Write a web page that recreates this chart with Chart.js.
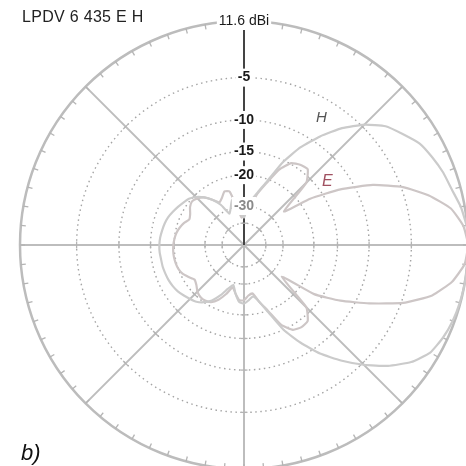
<!DOCTYPE html>
<html>
<head>
<meta charset="utf-8">
<script src="https://cdn.jsdelivr.net/npm/chart.js@4.4.1/dist/chart.umd.min.js"></script>
<style>
  html, body { margin: 0; padding: 0; background: #fff; overflow: hidden; width: 466px; height: 466px; }
  #wrap { position: relative; width: 466px; height: 466px; overflow: hidden; }
  canvas { position: absolute; left: 0; top: 0; }
  .txt { position: absolute; font-family: "Liberation Sans", Arial, sans-serif; white-space: nowrap; line-height: normal; }
</style>
</head>
<body>
<div id="wrap">
  <canvas id="polar" width="477" height="478"></canvas>
  <div class="txt" style="left:22px; top:8px; font-size:16px; letter-spacing:0.3px; color:#222;">LPDV 6 435 E H</div>
  <div class="txt" style="left:316px; top:108px; font-size:15px; font-style:italic; color:#555;">H</div>
  <div class="txt" style="left:322px; top:172px; font-size:16px; font-style:italic; color:#a05060;">E</div>
  <div class="txt" style="left:21px; top:440px; font-size:22px; font-style:italic; color:#111;">b)</div>
</div>
<script>
// angles, degrees clockwise from top, 5 deg steps
const angles = [
  0, 5, 10, 15, 20, 25, 30, 35, 40, 45, 50, 55,
  60, 65, 70, 75, 80, 85, 90, 95, 100, 105, 110, 115,
  120, 125, 130, 135, 140, 145, 150, 155, 160, 165, 170, 175,
  180, 185, 190, 195, 200, 205, 210, 215, 220, 225, 230, 235,
  240, 245, 250, 255, 260, 265, 270, 275, 280, 285, 290, 295,
  300, 305, 310, 315, 320, 325, 330, 335, 340, 345, 350, 355
];

// H plane, dB relative to 11.6 dBi
const hPlane = [
  -36, -31, -27, -24, -20.5, -15.5, -11.8, -9.0, -6.6, -4.7, -3.3, -2.5,
  -1.7, -1.3, -0.95, -0.7, -0.3, -0.05, 0, 0, 0, -0.05, -0.15, -0.35,
  -0.7, -1.6, -3.0, -4.8, -6.8, -9.0, -11.8, -15, -19.5, -23, -25, -24,
  -23, -23.5, -26, -29, -27, -24, -21.5, -20, -19, -18.5, -18, -17.5,
  -17.2, -17, -16.9, -16.8, -16.8, -16.7, -16.7, -16.8, -17, -17.2, -17.5, -18,
  -18.5, -19, -19.5, -20.5, -22, -24, -27, -32, -30, -27, -29, -34
];

// E plane
const ePlane = [
  -33, -27, -28, -24.5, -21, -17, -14.8, -14.2, -14, -16, -25, -17.5,
  -12, -7.8, -4.8, -2.7, -1.1, -0.3, 0, -0.2, -1.0, -2.4, -4.8, -8.3,
  -12, -16.5, -26, -16, -14, -13.8, -14.2, -16, -20, -23, -26, -25.5,
  -24, -24, -26, -28, -25, -22.5, -21, -20.5, -20.5, -21, -22, -22.5,
  -21.5, -20.5, -20, -19.8, -19.7, -19.7, -19.8, -20, -20.3, -20.8, -21.5, -22.5,
  -22, -21, -20.5, -21, -22, -24, -26, -25, -23.5, -24, -31, -36
];

// rings of the ARRL log grid
const ringDb = [-40, -30, -20, -15, -10, -5, 0];
const ringLabels = ['', '-30', '-20', '-15', '-10', '-5', '11.6 dBi'];

// ARRL log scale: 0.89 per 2 dB
const toRadius = db => Math.pow(0.89, -db / 2);
const ringValues = [0].concat(ringDb.map(toRadius));
const lastRing = ringValues.length - 1;

const gridTicks = {
  id: 'gridTicks',
  beforeDatasetsDraw(chart) {
    const s = chart.scales.r;
    const ctx = chart.ctx;
    ctx.save();
    ctx.strokeStyle = '#b4b4b4';
    ctx.lineWidth = 1.3;
    // small ticks inside the outer circle
    angles.forEach((a, i) => {
      const p1 = s.getPointPosition(i, s.drawingArea);
      const p2 = s.getPointPosition(i, s.drawingArea - 5);
      ctx.beginPath();
      ctx.moveTo(p1.x, p1.y);
      ctx.lineTo(p2.x, p2.y);
      ctx.stroke();
    });
    // cross marks where the rings meet the axes
    angles.forEach((a, i) => {
      if (a % 45 !== 0) return;
      ringValues.slice(1, lastRing).forEach(v => {
        const d = s.getDistanceFromCenterForValue(v);
        const p = s.getPointPosition(i, d);
        const ang = s.getIndexAngle(i);
        const dx = Math.cos(ang) * 3.5, dy = Math.sin(ang) * 3.5;
        ctx.beginPath();
        ctx.moveTo(p.x - dx, p.y - dy);
        ctx.lineTo(p.x + dx, p.y + dy);
        ctx.stroke();
      });
    });
    ctx.restore();
  }
};

new Chart(document.getElementById('polar'), {
  type: 'radar',
  data: {
    labels: angles.map(a => a + '°'),
    datasets: [
      {
        label: 'H',
        data: hPlane.map(toRadius),
        borderColor: '#cbcbcb',
        borderWidth: 2.2,
        pointRadius: 0,
        fill: false,
        tension: 0.15
      },
      {
        label: 'E',
        data: ePlane.map(toRadius),
        borderColor: '#cdc6c6',
        borderWidth: 2.2,
        pointRadius: 0,
        fill: false,
        tension: 0.15
      }
    ]
  },
  options: {
    responsive: false,
    animation: false,
    layout: { padding: { left: 11, top: 12, right: 0, bottom: 0 } },
    plugins: { legend: { display: false }, tooltip: { enabled: false } },
    scales: {
      r: {
        min: 0,
        max: 1,
        afterBuildTicks: scale => {
          scale.ticks = ringValues.map(v => ({ value: v }));
        },
        ticks: {
          callback: (v, i) => (i === 0 ? '' : ringLabels[i - 1]),
          font: {
            family: '"Liberation Sans", Arial, sans-serif',
            size: 14,
            weight: ctx => (ctx.index === lastRing ? 'normal' : 'bold')
          },
          color: ctx => (ctx.index === 2 ? '#8a8a8a' : '#1a1a1a'),
          backdropColor: '#fff',
          backdropPadding: 2,
          showLabelBackdrop: ctx => ctx.index > 1,
          z: 1
        },
        grid: {
          circular: true,
          color: ctx => (ctx.index === lastRing ? '#bcbcbc' : '#a4a4a4'),
          lineWidth: ctx => (ctx.index === lastRing ? 2.5 : 1.4)
        },
        border: {
          dash: ctx => (ctx.index === lastRing ? [] : [1.5, 3.5])
        },
        angleLines: {
          color: ctx => (ctx.index === 0 ? '#444' : '#bdbdbd'),
          lineWidth: ctx => (ctx.index % 9 === 0 ? 2 : 0)
        },
        pointLabels: { display: false }
      }
    }
  },
  plugins: [gridTicks]
});
</script>
</body>
</html>
